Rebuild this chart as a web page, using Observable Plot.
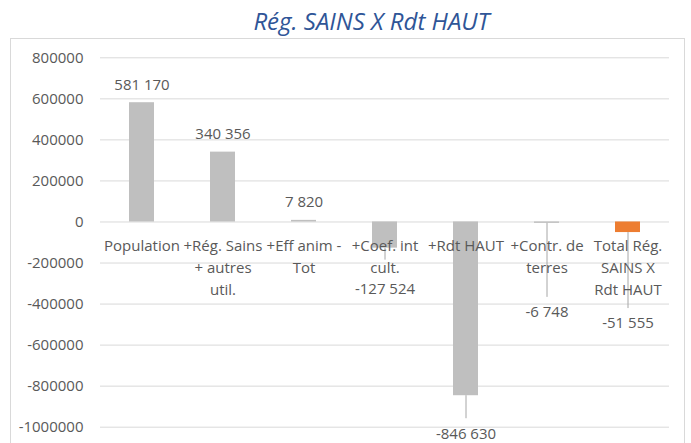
<!DOCTYPE html>
<html><head><meta charset="utf-8">
<script src="https://cdn.jsdelivr.net/npm/d3@7"></script>
<script src="https://cdn.jsdelivr.net/npm/@observablehq/plot@0.6"></script>
<style>
body{margin:0;background:#fff;font-family:"Open Sans",sans-serif;}
#wrap{position:relative;width:691px;height:443px;overflow:hidden;background:#fff;}
#title{position:absolute;top:4px;left:371.5px;transform:translateX(-50%);font-style:italic;font-size:24px;color:#2f5597;white-space:nowrap;line-height:normal;}
#border{position:absolute;left:10px;top:38px;width:675px;height:420px;border:1px solid #d9d9d9;box-sizing:border-box;}
#chart{position:absolute;left:0;top:38px;}
</style></head>
<body><div id="wrap"><div id="title">Rég. SAINS X Rdt HAUT</div><div id="border"></div><div id="chart"></div></div>
<script>
// ---- data ----
const categories = ["Population", "+Rég. Sains\n+ autres\nutil.", "+Eff anim -\nTot", "+Coef. int\ncult.", "+Rdt HAUT", "+Contr. de\nterres", "Total Rég.\nSAINS X\nRdt HAUT"];
const values = [581170, 340356, 7820, -127524, -846630, -6748, -51555];
const kinds = ["step", "step", "step", "step", "step", "step", "total"];
const yTicks = [800000, 600000, 400000, 200000, 0, -200000, -400000, -600000, -800000, -1000000];

// ---- label placement (pixels from bar end) ----
const labelDy = [-18, -18, -18, 41, 38, 89, 91];
const leaderDy = [0, 0, 0, 12, 23, 74, 76];

const fr = d3.formatLocale({decimal: ",", thousands: " ", grouping: [3], currency: ["", ""], minus: "-"});
const fmt = fr.format(",d");

const yDomain = [-1000000, 800000];
const H = 405, mTop = 19.3, mBottom = 16.3;
const ys = Plot.scale({y: {domain: yDomain, range: [H - mBottom, mTop]}});

const data = categories.map((c, i) => ({
  cat: c, value: values[i], kind: kinds[i],
  labelY: ys.invert(ys.apply(values[i]) + labelDy[i])
}));
const leaders = categories.map((c, i) => ({cat: c, y1: values[i], y2: ys.invert(ys.apply(values[i]) + leaderDy[i]), show: leaderDy[i] > 0}))
  .filter(d => d.show);

const chart = Plot.plot({
  width: 691, height: H,
  marginLeft: 100, marginRight: 22, marginTop: mTop, marginBottom: mBottom,
  x: {domain: categories, paddingInner: 0.69, paddingOuter: 0.345, axis: null},
  y: {domain: yDomain},
  style: {fontFamily: "'Open Sans', sans-serif", fontSize: "15px", color: "#595959", background: "transparent", overflow: "visible"},
  marks: [
    Plot.gridY(yTicks, {stroke: "#d9d9d9", strokeOpacity: 1}),
    Plot.axisY(yTicks, {tickSize: 0, tickPadding: 17, tickFormat: d => String(d), fill: "#595959", fontSize: 15}),
    Plot.barY(data, {filter: d => d.kind !== "total", x: "cat", y: "value", fill: "#bfbfbf"}),
    Plot.barY(data, {filter: d => d.kind === "total", x: "cat", y: "value", fill: "#ed7d31"}),
    Plot.ruleX(leaders, {x: "cat", y1: "y1", y2: "y2", stroke: "#a6a6a6", strokeWidth: 1}),
    Plot.text(data, {x: "cat", y: 0, text: "cat", lineAnchor: "top", dy: 13, lineHeight: 1.48, fill: "#595959", fontSize: 15}),
    Plot.text(data, {x: "cat", y: "labelY", text: d => fmt(d.value), fill: "#595959", fontSize: 15})
  ]
});
document.getElementById("chart").appendChild(chart);
</script>
</body></html>
